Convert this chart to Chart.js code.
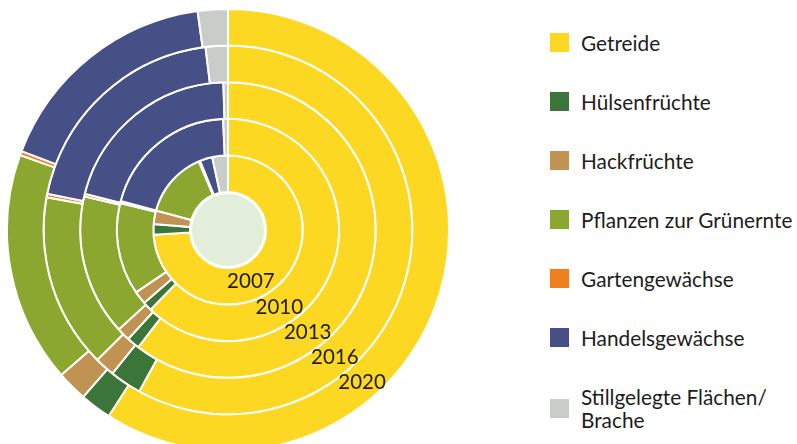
<!DOCTYPE html>
<html lang="de">
<head>
<meta charset="utf-8">
<script src="https://cdn.jsdelivr.net/npm/chart.js@4.4.1/dist/chart.umd.min.js"></script>
<style>
    html, body { margin: 0; padding: 0; background: #fff; overflow: hidden; }
    body { width: 797px; height: 444px; position: relative; font-family: Lato, "Noto Sans", sans-serif; }
    #chart { position: absolute; left: 6px; top: 8px; }
    #legend { position: absolute; left: 550px; top: 31px; display: flex; flex-direction: column; gap: 36px; }
    .item { display: flex; align-items: center; font-size: 20.8px; line-height: 23px; color: #1d1d1b; white-space: nowrap; }
    .box { width: 19px; height: 19px; margin-right: 12px; flex: none; }
</style>
</head>
<body>
<canvas id="chart" width="444" height="444"></canvas>
<div id="legend"></div>
<script>
// Anbau auf dem Ackerland, Anteile in %
const categories = ['Getreide', 'Hülsenfrüchte', 'Hackfrüchte', 'Pflanzen zur Grünernte',
    'Gartengewächse', 'Handelsgewächse', 'Stillgelegte Flächen/\nBrache'];
const colors = ['#fdd823', '#3c7539', '#c09352', '#8ba730', '#f07f1d', '#465087', '#c9cdca'];

const years = ['2007', '2010', '2013', '2016', '2020'];
const share2007 = [74.0, 2.3, 2.9, 14.4, 0.3, 2.7, 3.4];
const share2010 = [62.3, 1.35, 1.9, 13.4, 0.3, 20.1, 0.7];
const share2013 = [60.4, 1.4, 1.45, 15.4, 0.3, 20.55, 0.5];
const share2016 = [58.0, 2.8, 1.75, 15.3, 0.3, 19.9, 1.95];
const share2020 = [59.1, 2.3, 2.25, 16.9, 0.3, 17.0, 2.2];

const shares = [share2007, share2010, share2013, share2016, share2020];

// year label placement inside each ring (degrees clockwise from top)
const labelAngles = [156, 146.5, 142, 140, 138.6];

// Legend
const legend = document.getElementById('legend');
categories.forEach((name, i) => {
    const item = document.createElement('div');
    item.className = 'item';
    const box = document.createElement('span');
    box.className = 'box';
    box.style.background = colors[i];
    const text = document.createElement('span');
    text.innerHTML = name.replace('\n', '<br>');
    item.appendChild(box);
    item.appendChild(text);
    legend.appendChild(item);
});

// Center disc and year labels
const ringDecor = {
    id: 'ringDecor',
    afterDatasetsDraw(chart) {
        const ctx = chart.ctx;
        const n = chart.data.datasets.length;
        const inner = chart.getDatasetMeta(n - 1).data[0];

        ctx.save();
        ctx.beginPath();
        ctx.arc(inner.x, inner.y, inner.innerRadius - 2, 0, Math.PI * 2);
        ctx.fillStyle = '#e2eeda';
        ctx.fill();

        ctx.font = '20.5px Lato, "Noto Sans"';
        ctx.fillStyle = '#1d1d1b';
        ctx.textAlign = 'center';
        ctx.textBaseline = 'middle';
        chart.data.datasets.forEach((ds, d) => {
            const arc = chart.getDatasetMeta(d).data[0];
            const yi = years.indexOf(ds.label);
            const r = (arc.innerRadius + arc.outerRadius) / 2;
            const a = labelAngles[yi] * Math.PI / 180;
            ctx.fillText(ds.label, arc.x + r * Math.sin(a), arc.y - r * Math.cos(a));
        });
        ctx.restore();
    }
};

// outermost ring first
const datasets = years.slice().reverse().map(y => ({
    label: y,
    data: shares[years.indexOf(y)],
    backgroundColor: colors,
    borderColor: '#ffffff',
    borderWidth: 2
}));

new Chart(document.getElementById('chart'), {
    type: 'doughnut',
    data: {
        labels: categories.map(c => c.replace('\n', '')),
        datasets: datasets
    },
    options: {
        responsive: false,
        animation: false,
        cutout: '17.2%',
        layout: { padding: 0 },
        plugins: {
            legend: { display: false },
            tooltip: { enabled: false }
        }
    },
    plugins: [ringDecor]
});
</script>
</body>
</html>
